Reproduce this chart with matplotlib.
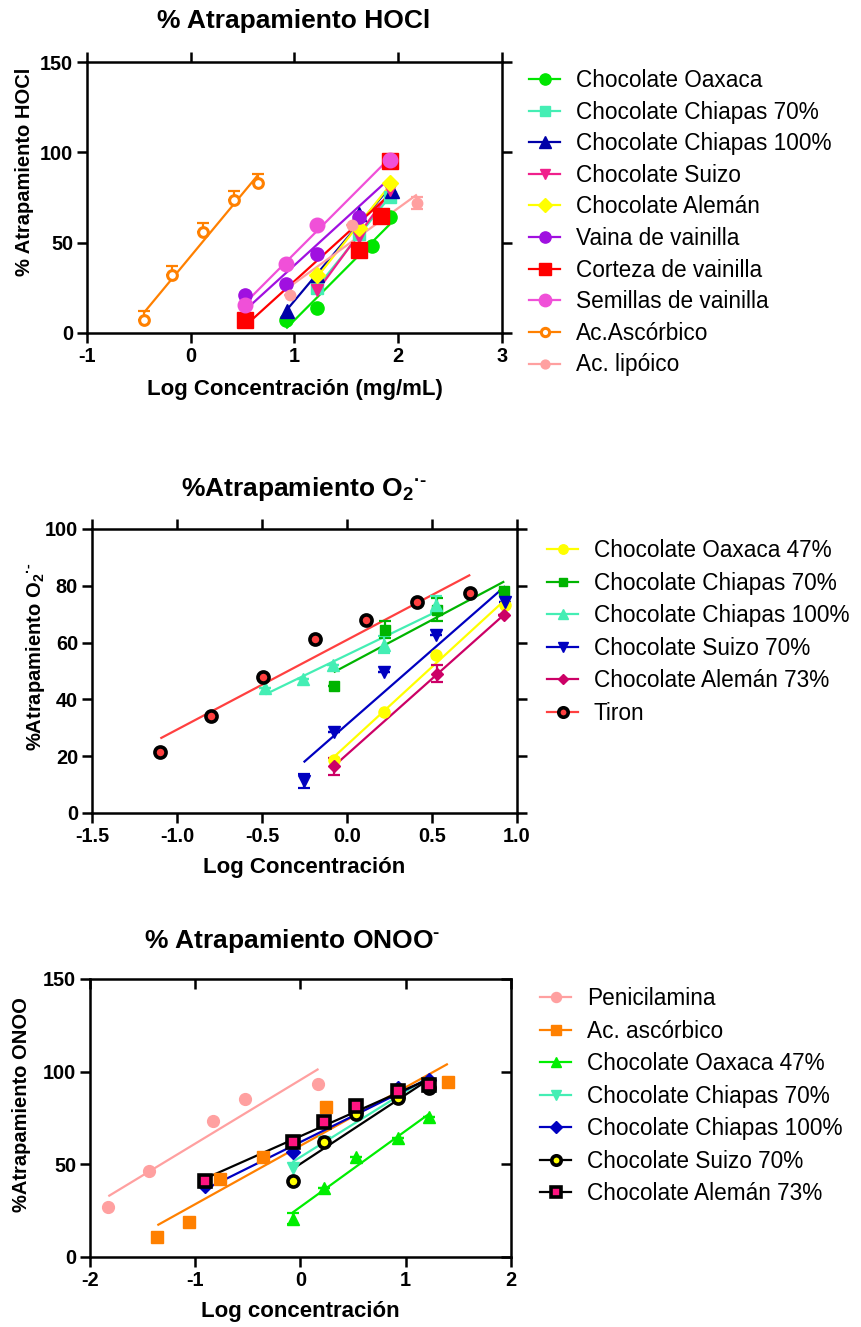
import numpy as np
import matplotlib
matplotlib.use('Agg')
import matplotlib.pyplot as plt
from matplotlib.lines import Line2D

plt.rcParams['font.family'] = ['Liberation Sans', 'DejaVu Sans']
plt.rcParams['mathtext.fontset'] = 'custom'
plt.rcParams['mathtext.rm'] = 'Liberation Sans:bold'
plt.rcParams['mathtext.it'] = 'Liberation Sans:bold'
plt.rcParams['mathtext.bf'] = 'Liberation Sans:bold'
plt.rcParams['mathtext.default'] = 'rm'
plt.rcParams['axes.unicode_minus'] = False

# ---------------- DATA: HOCl ----------------
hocl_labels = ["Chocolate Oaxaca", "Chocolate Chiapas 70%", "Chocolate Chiapas 100%",
               "Chocolate Suizo", "Chocolate Alemán", "Vaina de vainilla",
               "Corteza de vainilla", "Semillas de vainilla", "Ac.Ascórbico", "Ac. lipóico"]
hocl_oaxaca_x = [0.92, 1.22, 1.75, 1.92]
hocl_oaxaca_y = [7, 14, 48, 64]
hocl_chiapas70_x = [1.22, 1.62, 1.92]
hocl_chiapas70_y = [25, 55, 75]
hocl_chiapas100_x = [0.93, 1.22, 1.62, 1.94]
hocl_chiapas100_y = [12, 32, 65.7, 78.7]
hocl_suizo_x = [1.22, 1.62, 1.92]
hocl_suizo_y = [24, 53, 79]
hocl_aleman_x = [1.22, 1.62, 1.92]
hocl_aleman_y = [32, 58, 83]
hocl_vaina_x = [0.52, 0.92, 1.22, 1.62, 1.92]
hocl_vaina_y = [21, 27, 43.5, 64, 95]
hocl_corteza_x = [0.52, 1.62, 1.83, 1.92]
hocl_corteza_y = [7.4, 46, 65, 95]
hocl_semillas_x = [0.52, 0.92, 1.22, 1.92]
hocl_semillas_y = [15.7, 38, 60, 95.7]
hocl_ascorbico_x = [-0.45, -0.18, 0.12, 0.42, 0.65]
hocl_ascorbico_y = [7, 32, 56, 73.5, 83]
hocl_ascorbico_err = [5, 5, 5, 5, 5]
hocl_lipoico_x = [0.96, 1.55, 2.18]
hocl_lipoico_y = [21, 60, 72]
hocl_lipoico_err = [0, 0, 3.5]

# ---------------- DATA: O2.- ----------------
o2_labels = ["Chocolate Oaxaca 47%", "Chocolate Chiapas 70%", "Chocolate Chiapas 100%",
             "Chocolate Suizo 70%", "Chocolate Alemán 73%", "Tiron"]
o2_oaxaca_x = [-0.078, 0.22, 0.525, 0.93]
o2_oaxaca_y = [18.8, 35.6, 55.8, 73.4]
o2_chiapas70_x = [-0.078, 0.225, 0.53, 0.925]
o2_chiapas70_y = [44.8, 64.6, 71.6, 78.3]
o2_chiapas70_err = [0, 3, 4, 0]
o2_chiapas100_x = [-0.48, -0.26, -0.084, 0.22, 0.525]
o2_chiapas100_y = [44, 47.2, 52.2, 59.3, 73.4]
o2_chiapas100_err = [0, 0, 0, 3, 3]
o2_suizo_x = [-0.255, -0.078, 0.22, 0.525, 0.93]
o2_suizo_y = [11.2, 28.5, 49.5, 62.8, 74.2]
o2_suizo_err = [2.5, 0, 0, 0, 0]
o2_aleman_x = [-0.078, 0.53, 0.925]
o2_aleman_y = [16.4, 49, 69.8]
o2_aleman_err = [3, 3, 0]
o2_tiron_x = [-1.098, -0.798, -0.496, -0.19, 0.112, 0.41, 0.725]
o2_tiron_y = [21.5, 34, 47.9, 61.4, 68, 74.2, 77.5]

# ---------------- DATA: ONOO- ----------------
onoo_labels = ["Penicilamina", "Ac. ascórbico", "Chocolate Oaxaca 47%", "Chocolate Chiapas 70%",
               "Chocolate Chiapas 100%", "Chocolate Suizo 70%", "Chocolate Alemán 73%"]
onoo_penicil_x = [-1.826, -1.436, -0.827, -0.526, 0.171]
onoo_penicil_y = [26.9, 46.5, 73.2, 85, 93.5]
onoo_ascorbico_x = [-1.36, -1.055, -0.764, -0.358, 0.244, 1.4]
onoo_ascorbico_y = [10.7, 19, 42, 53.7, 80.8, 94.4]
onoo_oaxaca_x = [-0.076, 0.228, 0.526, 0.93, 1.223]
onoo_oaxaca_y = [20.6, 37.4, 54, 64.2, 75.4]
onoo_oaxaca_err = [3, 0, 0, 0, 0]
onoo_chiapas70_x = [-0.076, 0.228, 0.526, 0.93, 1.223]
onoo_chiapas70_y = [47.9, 62, 78, 89, 93]
onoo_chiapas100_x = [-0.906, -0.076, 0.93, 1.223]
onoo_chiapas100_y = [38.3, 56.4, 91.1, 95.3]
onoo_suizo_x = [-0.076, 0.228, 0.526, 0.93, 1.223]
onoo_suizo_y = [41, 61.8, 77.2, 85.9, 91.1]
onoo_aleman_x = [-0.906, -0.076, 0.228, 0.526, 0.93, 1.223]
onoo_aleman_y = [41, 62.2, 72.7, 81.7, 89.5, 92.6]

W, H = 862, 1327
fig = plt.figure(figsize=(W / 100, H / 100), dpi=100)


def add_ax(l, r, t, b):
    return fig.add_axes([l / W, 1 - b / H, (r - l) / W, (b - t) / H])


def draw(ax, x, y, st, err=None, lw=1.6):
    x = np.asarray(x, float)
    y = np.asarray(y, float)
    k, c = np.polyfit(x, y, 1)
    xs = np.array([x.min(), x.max()])
    ax.plot(xs, k * xs + c, color=st['line'], lw=lw, zorder=2, solid_capstyle='butt')
    if err is not None:
        e = np.asarray(err, float)
        if st.get('uponly'):
            e = [np.zeros_like(e), e]
        ax.errorbar(x, y, yerr=e, fmt='none', ecolor=st['mec'], elinewidth=1.6,
                    capsize=4, capthick=1.6, zorder=3)
    ax.plot(x, y, ls='none', marker=st['m'], ms=st['ms'], mfc=st['mfc'], mec=st['mec'],
            mew=st['mew'], zorder=4)


def handle(st, scale=0.85):
    return Line2D([0], [0], color=st['line'], lw=1.6, marker=st['m'], ms=st['ms'] * scale,
                  mfc=st['mfc'], mec=st['mec'], mew=st['mew'])


def style_axes(ax, inner_top=False):
    for s in ax.spines.values():
        s.set_linewidth(1.8)
    ax.tick_params(axis='both', which='both', direction='out', length=7, width=1.8,
                   labelsize=14.3, pad=3)
    if inner_top:
        ax.tick_params(axis='x', top=True, bottom=True)
        ax.tick_params(axis='y', right=True, left=True)
        for tl in ax.xaxis.get_major_ticks():
            tl.tick2line.set_marker(3)
        for tl in ax.yaxis.get_major_ticks():
            tl.tick2line.set_marker(0)
    else:
        ax.tick_params(top=True, right=True)
    for lab in ax.get_xticklabels() + ax.get_yticklabels():
        lab.set_fontweight('bold')


def mk(color, m, ms, mfc=None, mec=None, mew=1.0, line=None, uponly=False):
    return dict(line=line or color, m=m, ms=ms, mfc=mfc or color, mec=mec or color,
                mew=mew, uponly=uponly)


def leg_kw(spacing):
    return dict(frameon=False, loc='upper left', borderpad=0, borderaxespad=0,
                handlelength=1.37, handletextpad=0.7, labelspacing=spacing, fontsize=16.3,
                numpoints=1)


SUP = r'$_2$$^{\text{·-}}$'

# ================= Plot 1: HOCl =================
ax1 = add_ax(87, 502, 62, 333)
st1 = [
    mk('#00E600', 'o', 9.5),
    mk('#44EEB4', 's', 9),
    mk('#0000A8', '^', 9.5),
    mk('#F0208C', 'v', 9),
    mk('#FFFF00', 'D', 8),
    mk('#A010E0', 'o', 9.5),
    mk('#FF0000', 's', 11),
    mk('#F050D8', 'o', 10.5),
    mk('#FF8000', 'o', 7, mfc='white', mew=2.2, uponly=True),
    mk('#FFA0A0', 'o', 7.5),
]
series1 = [
    (hocl_oaxaca_x, hocl_oaxaca_y, None),
    (hocl_chiapas70_x, hocl_chiapas70_y, None),
    (hocl_chiapas100_x, hocl_chiapas100_y, None),
    (hocl_suizo_x, hocl_suizo_y, None),
    (hocl_aleman_x, hocl_aleman_y, None),
    (hocl_vaina_x, hocl_vaina_y, None),
    (hocl_corteza_x, hocl_corteza_y, None),
    (hocl_semillas_x, hocl_semillas_y, None),
    (hocl_ascorbico_x, hocl_ascorbico_y, hocl_ascorbico_err),
    (hocl_lipoico_x, hocl_lipoico_y, hocl_lipoico_err),
]
for (x, y, e), st in zip(series1, st1):
    draw(ax1, x, y, st, e)
ax1.set_xlim(-1, 3)
ax1.set_ylim(0, 150)
ax1.set_xticks([-1, 0, 1, 2, 3])
ax1.set_yticks([0, 50, 100, 150])
style_axes(ax1)
ax1.set_xlabel('Log Concentración (mg/mL)', fontsize=16, fontweight='bold', va='center')
ax1.xaxis.set_label_coords(0.5, -(390 - 333) / 271)
ax1.set_ylabel('% Atrapamiento HOCl', fontsize=14.5, fontweight='bold', va='center')
ax1.yaxis.set_label_coords((24 - 87) / 415, (333 - 172) / 271)
fig.text(294 / W, 1 - 21 / H, '% Atrapamiento HOCl', ha='center', va='center',
         fontsize=19, fontweight='bold')
fig.legend([handle(s) for s in st1], hocl_labels, bbox_to_anchor=(529 / W, 1 - 69 / H),
           **leg_kw(0.38))

# ================= Plot 2: O2.- =================
ax2 = add_ax(92, 517, 529, 813)
st2 = [
    mk('#FFFF00', 'o', 8),
    mk('#00B400', 's', 7.5),
    mk('#44EEB4', '^', 8),
    mk('#0000C0', 'v', 8),
    mk('#CC0066', 'D', 6.5),
    mk('#FF4040', 'o', 8, mfc='#FF4040', mec='black', mew=2.6, line='#FF4040'),
]
series2 = [
    (o2_oaxaca_x, o2_oaxaca_y, None),
    (o2_chiapas70_x, o2_chiapas70_y, o2_chiapas70_err),
    (o2_chiapas100_x, o2_chiapas100_y, o2_chiapas100_err),
    (o2_suizo_x, o2_suizo_y, o2_suizo_err),
    (o2_aleman_x, o2_aleman_y, o2_aleman_err),
    (o2_tiron_x, o2_tiron_y, None),
]
for (x, y, e), st in zip(series2, st2):
    draw(ax2, x, y, st, e)
ax2.set_xlim(-1.5, 1.0)
ax2.set_ylim(0, 100)
ax2.set_xticks([-1.5, -1.0, -0.5, 0.0, 0.5, 1.0])
ax2.set_xticklabels(['-1.5', '-1.0', '-0.5', '0.0', '0.5', '1.0'])
ax2.set_yticks([0, 20, 40, 60, 80, 100])
style_axes(ax2)
ax2.set_xlabel('Log Concentración', fontsize=16, fontweight='bold', va='center')
ax2.xaxis.set_label_coords(0.5, -(868 - 813) / 284)
ax2.set_ylabel('%Atrapamiento O' + SUP, fontsize=14.5, fontweight='bold', va='center')
ax2.yaxis.set_label_coords((36 - 92) / 425, (813 - 657) / 284)
fig.text(304 / W, 1 - 489 / H, '%Atrapamiento O' + SUP, ha='center', va='center',
         fontsize=19, fontweight='bold')
fig.legend([handle(s) for s in st2], o2_labels, bbox_to_anchor=(547 / W, 1 - 539 / H),
           **leg_kw(0.42))

# ================= Plot 3: ONOO- =================
ax3 = add_ax(90, 511, 979, 1257)
st3 = [
    mk('#FFA0A0', 'o', 8.5),
    mk('#FF8000', 's', 8),
    mk('#00EE00', '^', 8.5),
    mk('#44EEB4', 'v', 8.5),
    mk('#0000C0', 'D', 7),
    mk('black', 'o', 8, mfc='#FFFF00', mec='black', mew=2.6, line='black'),
    mk('black', 's', 8, mfc='#FF1480', mec='black', mew=2.6, line='black'),
]
series3 = [
    (onoo_penicil_x, onoo_penicil_y, None),
    (onoo_ascorbico_x, onoo_ascorbico_y, None),
    (onoo_oaxaca_x, onoo_oaxaca_y, onoo_oaxaca_err),
    (onoo_chiapas70_x, onoo_chiapas70_y, None),
    (onoo_chiapas100_x, onoo_chiapas100_y, None),
    (onoo_suizo_x, onoo_suizo_y, None),
    (onoo_aleman_x, onoo_aleman_y, None),
]
for (x, y, e), st in zip(series3, st3):
    draw(ax3, x, y, st, e)
ax3.set_xlim(-2, 2)
ax3.set_ylim(0, 150)
ax3.set_xticks([-2, -1, 0, 1, 2])
ax3.set_yticks([0, 50, 100, 150])
style_axes(ax3, inner_top=True)
ax3.set_xlabel('Log concentración', fontsize=16, fontweight='bold', va='center')
ax3.xaxis.set_label_coords(0.5, -(1311 - 1257) / 278)
ax3.set_ylabel('%Atrapamiento ONOO', fontsize=14.5, fontweight='bold', va='center')
ax3.yaxis.set_label_coords((22 - 90) / 421, (1257 - 1105) / 278)
fig.text(292 / W, 1 - 941 / H, r'% Atrapamiento ONOO$^{\text{-}}$', ha='center', va='center',
         fontsize=19, fontweight='bold')
fig.legend([handle(s) for s in st3], onoo_labels, bbox_to_anchor=(540 / W, 1 - 987 / H),
           **leg_kw(0.42))

fig.savefig('out.png', dpi=100)
